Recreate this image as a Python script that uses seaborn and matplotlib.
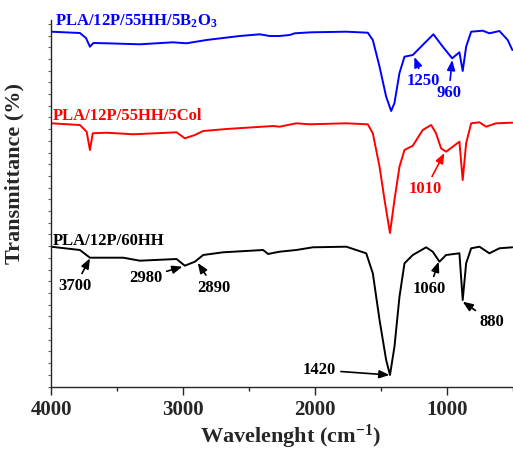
import matplotlib
matplotlib.use("Agg")
import matplotlib.pyplot as plt
import seaborn as sns
import pandas as pd
from matplotlib.ticker import MultipleLocator

# ---------------- data (transmittance in arbitrary offset units) ----------------
wn_b2o3 = [4000, 3781, 3735, 3705, 3679, 3579, 3327, 3077, 2974, 2822, 2570, 2419, 2343,
           2268, 2192, 2154, 2028, 1763, 1600, 1562, 1511, 1461, 1423, 1398, 1360, 1322,
           1259, 1184, 1103, 1032, 961, 906, 881, 855, 817, 729, 679, 603, 540, 505]
t_b2o3 = [354.8, 353.5, 348.5, 339.8, 343.5, 343.2, 342.2, 344.2, 343.2, 346.5, 350.5, 352.2,
          350.5, 350.5, 351.5, 353.2, 354.2, 354.8, 353.8, 346.5, 319.8, 289.8, 275.5, 283.5,
          313.5, 329.8, 331.5, 341.5, 352.2, 339.8, 328.2, 334.2, 315.5, 339.8, 354.8, 355.8,
          353.2, 355.5, 346.5, 336.5]

wn_col = [4000, 3781, 3730, 3705, 3684, 3579, 3377, 3049, 2986, 2910, 2847, 2670, 2317, 2268,
          2142, 2041, 1763, 1600, 1562, 1511, 1473, 1432, 1398, 1360, 1322, 1259, 1184, 1120,
          1083, 1045, 1007, 906, 881, 855, 817, 754, 704, 628, 505]
t_col = [263.2, 261.5, 254.8, 236.5, 253.2, 253.8, 252.2, 254.2, 248.2, 251.5, 255.5, 257.5,
         260.5, 259.8, 263.2, 262.2, 263.2, 262.2, 253.2, 219.8, 186.5, 153.5, 186.5, 219.8,
         236.5, 240.8, 256.5, 261.5, 253.2, 238.2, 234.8, 244.8, 206.5, 243.2, 263.2, 264.2,
         259.8, 263.2, 263.8]

wn_hh = [4000, 3781, 3705, 3453, 3327, 3049, 2986, 2910, 2847, 2696, 2393, 2355, 2292, 2268,
         2142, 2016, 1763, 1612, 1562, 1511, 1461, 1432, 1398, 1360, 1322, 1259, 1158, 1108,
         1057, 1007, 906, 881, 855, 817, 754, 679, 603, 505]
t_hh = [139.8, 136.5, 128.8, 128.8, 125.8, 127.5, 120.8, 124.8, 131.5, 134.2, 136.5, 132.5,
        134.2, 134.8, 136.5, 139.2, 139.8, 133.2, 113.2, 66.5, 26.5, 11.5, 39.8, 89.8, 123.2,
        131.5, 139.2, 134.8, 124.8, 131.5, 133.2, 86.5, 123.2, 138.2, 139.8, 133.2, 138.2, 139.2]

series_names = ["PLA/12P/55HH/5B2O3", "PLA/12P/55HH/5Col", "PLA/12P/60HH"]
series_labels = [r"PLA/12P/55HH/5B$_2$O$_3$", "PLA/12P/55HH/5Col", "PLA/12P/60HH"]
series_colors = ["#0000FF", "#FF0000", "#000000"]

# peak labels: text, tip wavenumber, tip transmittance, text wavenumber, text transmittance, series index
peak_labels = ["3700", "2980", "2890", "1420", "1060", "880", "1010", "1250", "960"]
peak_tip_wn = [3705, 3004, 2888, 1436, 1063, 881, 1020, 1247, 961]
peak_tip_t = [128.2, 119.8, 123.5, 11.5, 124.8, 84.8, 233.5, 329.5, 326.5]
peak_txt_wn = [3815, 3285, 2763, 1965, 1133, 657, 1163, 1178, 986]
peak_txt_t = [100.5, 109.0, 99.0, 16.5, 97.5, 64.5, 197.5, 305.5, 293.5]
peak_series = [2, 2, 2, 2, 2, 2, 1, 0, 0]

# ---------------- build long-form table ----------------
frames = []
for name, w, t in zip(series_names, [wn_b2o3, wn_col, wn_hh], [t_b2o3, t_col, t_hh]):
    frames.append(pd.DataFrame({"wn": w, "T": t, "sample": name}))
df = pd.concat(frames, ignore_index=True)

sns.set_style("ticks")
plt.rcParams["font.family"] = ["Liberation Serif", "DejaVu Serif"]
plt.rcParams["font.weight"] = "bold"
plt.rcParams["mathtext.fontset"] = "custom"
plt.rcParams["mathtext.rm"] = "Liberation Serif:bold"
plt.rcParams["mathtext.bf"] = "Liberation Serif:bold"
plt.rcParams["mathtext.it"] = "Liberation Serif:bold"
plt.rcParams["mathtext.default"] = "regular"

fig = plt.figure(figsize=(5.13, 4.5), dpi=100)
ax = fig.add_axes([51 / 513, 63.5 / 450, 462 / 513, 366.5 / 450])

sns.lineplot(data=df, x="wn", y="T", hue="sample", palette=series_colors,
             hue_order=series_names, sort=False, estimator=None, linewidth=1.4,
             legend=False, ax=ax)

ax.set_xlim(4000, 500)
ax.set_ylim(0, 366.5)
ax.xaxis.set_major_locator(MultipleLocator(1000))
ax.xaxis.set_minor_locator(MultipleLocator(500))
ax.yaxis.set_major_locator(MultipleLocator(11.7))
ax.set_yticklabels([])
ax.tick_params(axis="x", which="major", length=6, width=1, labelsize=15, pad=4)
ax.tick_params(axis="x", which="minor", length=3, width=1)
ax.tick_params(axis="y", which="major", length=2, width=0.8, color="#666666")
for lab in ax.get_xticklabels():
    lab.set_fontweight("bold")

sns.despine(ax=ax, top=True, right=True)
for s in ["left", "bottom"]:
    ax.spines[s].set_linewidth(1.0)

ax.set_xlabel(r"Wavelenght (cm$^{\mathbf{-1}}$)", fontsize=16, fontweight="bold")
ax.xaxis.set_label_coords(0.519, -0.100)
ax.set_ylabel("Transmittance (%)", fontsize=16, fontweight="bold")
ax.yaxis.set_label_coords(-0.058, 0.58)

# series labels
lab_wn = [3970, 3987, 3987]
lab_t = [360.5, 266.5, 141.5]
for lbl, c, x, y in zip(series_labels, series_colors, lab_wn, lab_t):
    ax.text(x, y, lbl, color=c, fontsize=12, fontweight="bold", ha="left", va="baseline")

# peak annotations
for txt, tx, ty, lx, ly, si in zip(peak_labels, peak_tip_wn, peak_tip_t,
                                    peak_txt_wn, peak_txt_t, peak_series):
    c = series_colors[si]
    ax.annotate(txt, xy=(tx, ty), xytext=(lx, ly), textcoords="data",
                ha="center", va="center", fontsize=12, fontweight="bold", color=c,
                arrowprops=dict(arrowstyle="-|>,head_length=0.5,head_width=0.2",
                                color=c, lw=1.2, shrinkA=1, shrinkB=0))

fig.savefig("out.png", dpi=100)
